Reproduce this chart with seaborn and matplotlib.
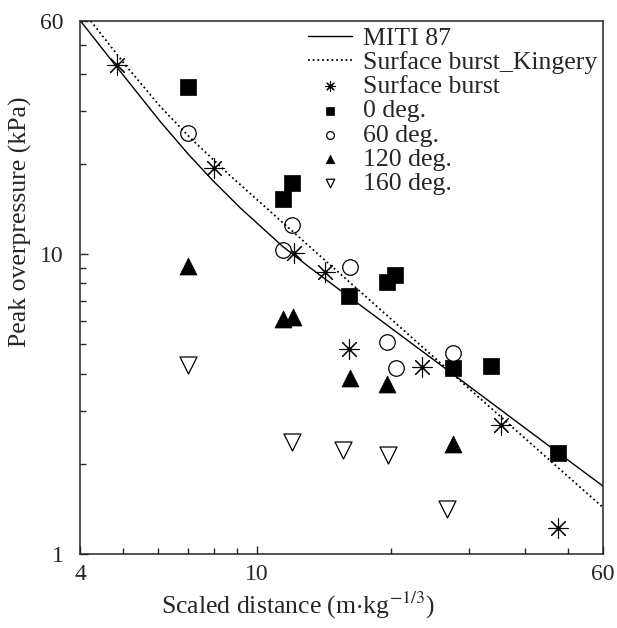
import matplotlib
matplotlib.use('Agg')
import matplotlib.pyplot as plt
from matplotlib.ticker import FixedLocator, NullFormatter, FixedFormatter
import seaborn as sns

# Curves
miti_x = [4.01, 4.84, 5.32, 6.05, 7.0, 7.96, 9.16, 11.44, 13.16, 16.19, 27.6, 47.5, 60.0]
miti_y = [60.0, 42.1, 35.3, 27.8, 21.6, 17.6, 14.3, 10.6, 9.02, 7.17, 3.98, 2.18, 1.685]

king_x = [4.23, 5.05, 6.05, 7.07, 8.70, 12.82, 20.97, 35.7, 60.0]
king_y = [60.0, 42.9, 31.2, 24.5, 18.3, 10.95, 5.72, 2.83, 1.43]

# Measured points
sb_x = [4.85, 8.0, 12.1, 14.2, 16.1, 23.5, 35.4, 47.6]
sb_y = [42.8, 19.4, 10.1, 8.7, 4.82, 4.2, 2.69, 1.22]

deg0_x = [7.0, 12.0, 11.46, 16.1, 20.4, 19.6, 27.6, 33.6, 47.5]
deg0_y = [36.1, 17.3, 15.3, 7.27, 8.53, 8.07, 4.17, 4.24, 2.17]

deg60_x = [6.98, 12.0, 11.46, 16.2, 19.6, 20.5, 27.6]
deg60_y = [25.3, 12.5, 10.3, 9.09, 5.11, 4.17, 4.70]

deg120_x = [7.0, 11.43, 12.07, 16.2, 19.6, 27.6]
deg120_y = [9.16, 6.08, 6.19, 3.86, 3.68, 2.33]

deg160_x = [7.0, 11.97, 15.6, 19.7, 26.7]
deg160_y = [4.27, 2.37, 2.22, 2.14, 1.41]

sns.set_style('ticks')
plt.rcParams['font.family'] = ['Liberation Serif', 'DejaVu Serif']
plt.rcParams['mathtext.fontset'] = 'stix'
plt.rcParams['font.size'] = 18

fig, ax = plt.subplots(figsize=(6.17, 6.28), dpi=100)
fig.subplots_adjust(left=0.1297, right=0.9773, top=0.9666, bottom=0.1178)

# Lines
sns.lineplot(x=miti_x, y=miti_y, estimator=None, sort=False, color='black',
             lw=1.0, label='MITI 87', ax=ax)
sns.lineplot(x=king_x, y=king_y, estimator=None, sort=False, color='black',
             lw=1.3, linestyle=(0, (1, 1.6)), label='Surface burst_Kingery', ax=ax)

# Points
sns.scatterplot(x=sb_x, y=sb_y, marker=(8, 2, 0), s=190, color='black',
                linewidth=0.8, label='Surface burst', ax=ax)
sns.scatterplot(x=sb_x, y=sb_y, marker='o', s=8, color='black',
                linewidth=0, legend=False, ax=ax)
sns.scatterplot(x=deg0_x, y=deg0_y, marker='s', s=140, color='black',
                edgecolor='black', linewidth=0.5, label='0 deg.', ax=ax)
sns.scatterplot(x=deg60_x, y=deg60_y, marker='o', s=125, facecolor='white',
                edgecolor='black', linewidth=0.9, label='60 deg.', ax=ax)
sns.scatterplot(x=deg120_x, y=deg120_y, marker='^', s=150, color='black',
                edgecolor='black', linewidth=0.5, label='120 deg.', ax=ax)
sns.scatterplot(x=deg160_x, y=deg160_y, marker='v', s=150, facecolor='white',
                edgecolor='black', linewidth=0.9, label='160 deg.', ax=ax)

ax.set_xscale('log')
ax.set_yscale('log')
ax.set_xlim(4, 60)
ax.set_ylim(1, 60)

ax.xaxis.set_major_locator(FixedLocator([4, 10, 60]))
ax.xaxis.set_major_formatter(FixedFormatter(['4', '10', '60']))
ax.xaxis.set_minor_locator(FixedLocator([5, 6, 7, 8, 9, 20, 30, 40, 50]))
ax.xaxis.set_minor_formatter(NullFormatter())
ax.yaxis.set_major_locator(FixedLocator([1, 10, 60]))
ax.yaxis.set_major_formatter(FixedFormatter(['1', '10', '60']))
ax.yaxis.set_minor_locator(FixedLocator([2, 3, 4, 5, 6, 7, 8, 9, 20, 30, 40, 50]))
ax.yaxis.set_minor_formatter(NullFormatter())

ax.tick_params(which='major', direction='in', length=6, width=1.0, labelsize=17)
ax.tick_params(axis='x', which='major', pad=7)
ax.tick_params(axis='y', which='major', pad=12)
ax.tick_params(which='minor', direction='in', length=4, width=1.0)
for sp in ax.spines.values():
    sp.set_linewidth(1.1)
    sp.set_visible(True)

ax.set_xlabel(r'Scaled distance (m$\cdot$kg$^{-1/3}$)', fontsize=18.5)
ax.set_ylabel('Peak overpressure (kPa)', fontsize=18.5)
ax.xaxis.set_label_coords(0.417, -0.068)
ax.yaxis.set_label_coords(-0.092, 0.623)

ax.legend(loc='upper right', bbox_to_anchor=(1.0, 1.0), frameon=False,
          fontsize=18.5, handlelength=1.7, handletextpad=0.45, labelspacing=0.05,
          markerscale=0.5, borderaxespad=0.12, borderpad=0.1)

plt.savefig('out.png', dpi=100)
